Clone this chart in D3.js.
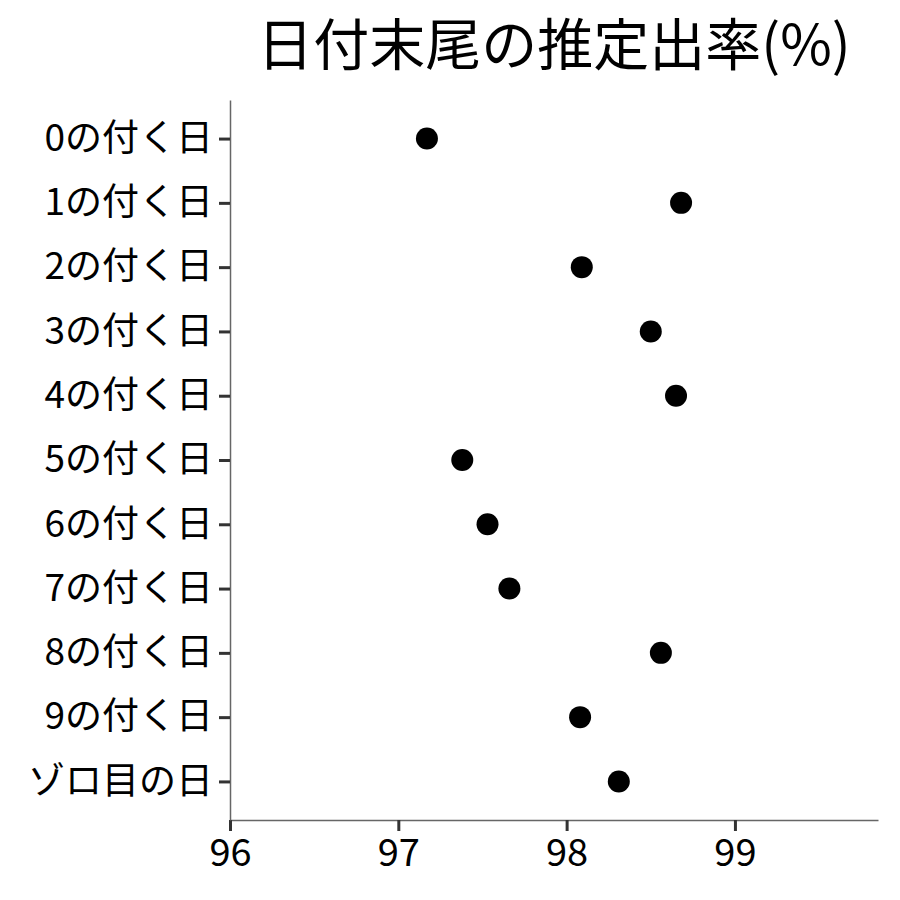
<!DOCTYPE html>
<html>
<head>
<meta charset="utf-8">
<script src="https://cdn.jsdelivr.net/npm/d3@7"></script>
<style>
  body { margin: 0; background: #fff; }
  svg text { font-family: "Noto Sans CJK JP", "Noto Sans", sans-serif; fill: #000; }
</style>
</head>
<body>
<svg id="chart" width="900" height="900"></svg>
<script>
const categories = ["0の付く日", "1の付く日", "2の付く日", "3の付く日", "4の付く日",
  "5の付く日", "6の付く日", "7の付く日", "8の付く日", "9の付く日", "ゾロ目の日"];
const rates = [97.17, 98.68, 98.09, 98.50, 98.65, 97.38, 97.53, 97.66, 98.56, 98.08, 98.31];
const xTicks = [96, 97, 98, 99];

const svg = d3.select("#chart");
const margin = { top: 100, right: 22, bottom: 80, left: 230 };
const W = 900, H = 900;

const x = d3.scaleLinear()
  .domain([96, 99.85])
  .range([margin.left, W - margin.right]);

const y = d3.scalePoint()
  .domain(categories)
  .range([margin.top, H - margin.bottom])
  .padding(0.6);

// title
svg.append("text")
  .attr("x", (margin.left + W - margin.right) / 2)
  .attr("y", 65)
  .attr("text-anchor", "middle")
  .style("font-size", "56px")
  .text("日付末尾の推定出率(%)");

// x axis
const xAxis = svg.append("g")
  .attr("transform", `translate(0,${H - margin.bottom})`)
  .call(d3.axisBottom(x).tickValues(xTicks).tickFormat(d3.format("d"))
    .tickSize(11).tickSizeOuter(0).tickPadding(8));
xAxis.select(".domain").attr("stroke", "#666").attr("stroke-width", 1.5);
xAxis.selectAll(".tick line").attr("stroke", "#333").attr("stroke-width", 3);
xAxis.selectAll("text").style("font-size", "38px");

// y axis
const yAxis = svg.append("g")
  .attr("transform", `translate(${margin.left},0)`)
  .call(d3.axisLeft(y).tickSize(11).tickSizeOuter(0).tickPadding(6));
yAxis.select(".domain").attr("stroke", "#666").attr("stroke-width", 1.5);
yAxis.selectAll(".tick line").attr("stroke", "#333").attr("stroke-width", 3);
yAxis.selectAll("text").style("font-size", "37px");

// dots
svg.append("g")
  .selectAll("circle")
  .data(categories.map((c, i) => ({ c, v: rates[i] })))
  .join("circle")
  .attr("cx", d => x(d.v))
  .attr("cy", d => y(d.c))
  .attr("r", 11)
  .attr("fill", "#000");
</script>
</body>
</html>
